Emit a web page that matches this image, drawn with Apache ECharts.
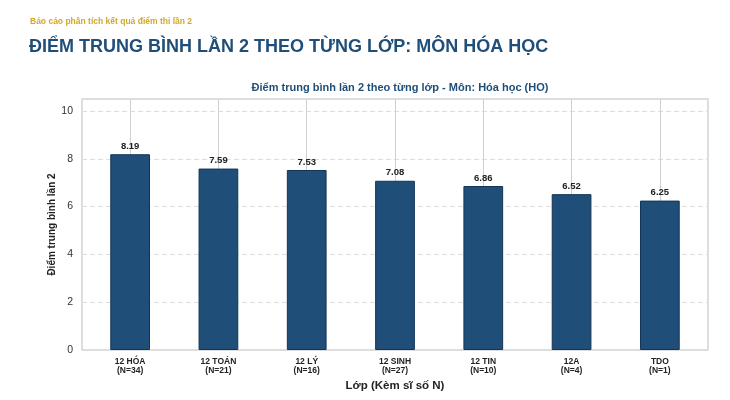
<!DOCTYPE html>
<html>
<head>
<meta charset="utf-8">
<script src="https://cdn.jsdelivr.net/npm/echarts@6/dist/echarts.min.js"></script>
<style>
html,body{margin:0;padding:0;background:#fff;}
#c{width:730px;height:400px;}
</style>
</head>
<body>
<div id="c"></div>
<script>
const categories = ['12 HÓA', '12 TOÁN', '12 LÝ', '12 SINH', '12 TIN', '12A', 'TDO'];
const classSizes = [34, 21, 16, 27, 10, 4, 1];
const avgScores = [8.19, 7.59, 7.53, 7.08, 6.86, 6.52, 6.25];
const yTicks = [0, 2, 4, 6, 8, 10];

const FONT = "'Liberation Sans', Arial, sans-serif";
const BLUE = '#1F4E79';

const chart = echarts.init(document.getElementById('c'));
chart.setOption({
  animation: false,
  backgroundColor: '#fff',
  title: [
    { text: 'Báo cáo phân tích kết quả điểm thi lần 2', left: 25, top: 12,
      textStyle: { fontFamily: FONT, fontSize: 8.5, fontWeight: 'bold', color: '#D4A72C' } },
    { text: 'ĐIỂM TRUNG BÌNH LẦN 2 THEO TỪNG LỚP: MÔN HÓA HỌC', left: 24, top: 33,
      textStyle: { fontFamily: FONT, fontSize: 18, fontWeight: 'bold', color: BLUE } },
    { text: 'Điểm trung bình lần 2 theo từng lớp - Môn: Hóa học (HO)', left: 395, top: 77, textAlign: 'center',
      textStyle: { fontFamily: FONT, fontSize: 11, fontWeight: 'bold', color: BLUE } }
  ],
  grid: [
    { left: 82, right: 22, top: 99, bottom: 50, show: true, borderColor: '#d4d4d4', borderWidth: 1.5, backgroundColor: '#fff' },
    { left: 86, right: 26, top: 99, bottom: 50 }
  ],
  xAxis: [
    { gridIndex: 0, type: 'category', data: categories, show: false },
    { gridIndex: 1, type: 'category', data: categories,
      axisLine: { show: false }, axisTick: { show: false },
      axisLabel: { margin: 7, fontFamily: FONT, fontSize: 8.5, fontWeight: 'bold', color: '#222', lineHeight: 9,
        formatter: (v, i) => v + '\n(N=' + classSizes[i] + ')' },
      name: 'Lớp (Kèm sĩ số N)', nameLocation: 'middle', nameGap: 27,
      nameTextStyle: { fontFamily: FONT, fontSize: 11.5, fontWeight: 'bold', color: '#222' } }
  ],
  yAxis: [
    { gridIndex: 0, type: 'value', min: 0, max: 10.5, interval: 2,
      axisLine: { show: false }, axisTick: { show: false },
      axisLabel: { margin: 9, fontFamily: FONT, fontSize: 10.5, color: '#333',
        formatter: v => yTicks.indexOf(v) >= 0 ? String(v) : '' },
      splitLine: { show: true, lineStyle: { color: '#dddddd', type: [5, 3], width: 1 } },
      name: 'Điểm trung bình lần 2', nameLocation: 'middle', nameGap: 25, nameRotate: 90, nameMoveOverlap: false,
      nameTextStyle: { fontFamily: FONT, fontSize: 10, fontWeight: 'bold', color: '#222' } },
    { gridIndex: 1, type: 'value', min: 0, max: 10.5, interval: 2, show: false, splitLine: { show: false } }
  ],
  series: [
    { type: 'line', xAxisIndex: 1, yAxisIndex: 1, z: 1, data: categories.map(() => '-'), silent: true,
      markLine: { silent: true, z: 1, symbol: ['none', 'none'], label: { show: false },
        lineStyle: { color: '#cfcfcf', type: 'solid', width: 1 },
        data: categories.map((c, i) => ({ xAxis: i })) } },
    { type: 'bar', xAxisIndex: 1, yAxisIndex: 1, z: 3, data: avgScores, barWidth: '45%',
      itemStyle: { color: BLUE, borderColor: '#123556', borderWidth: 1 },
      label: { show: true, position: 'top', distance: 3, fontFamily: FONT, fontSize: 9.5, fontWeight: 'bold', color: '#222',
        formatter: p => p.value.toFixed(2) } }
  ]
});
</script>
</body>
</html>
